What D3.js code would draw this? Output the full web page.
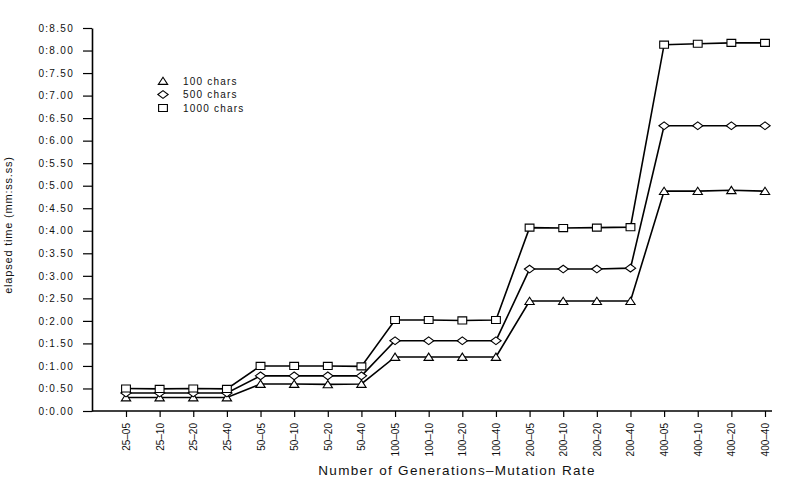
<!DOCTYPE html>
<html>
<head>
<meta charset="utf-8">
<script src="https://cdn.jsdelivr.net/npm/d3@7"></script>
<style>
  body { margin: 0; background: #fff; }
  text { font-family: "Liberation Sans", Arial, sans-serif; fill: #111; }
</style>
</head>
<body>
<svg width="788" height="482"></svg>
<script>
// categories: generations - mutation rate
const categories = ["25–05", "25–10", "25–20", "25–40", "50–05", "50–10", "50–20", "50–40",
    "100–05", "100–10", "100–20", "100–40", "200–05", "200–10", "200–20", "200–40",
    "400–05", "400–10", "400–20", "400–40"]

// elapsed time per series
const chars100 = [0.30, 0.30, 0.30, 0.30, 0.60, 0.60, 0.59, 0.60,
    1.20, 1.20, 1.20, 1.20, 2.44, 2.44, 2.44, 2.44, 4.88, 4.88, 4.90, 4.88]
const chars500 = [0.40, 0.40, 0.40, 0.40, 0.78, 0.78, 0.78, 0.78,
    1.56, 1.56, 1.56, 1.56, 3.15, 3.15, 3.15, 3.17, 6.33, 6.33, 6.33, 6.33]
const chars1000 = [0.50, 0.49, 0.50, 0.49, 1.00, 1.00, 1.00, 0.99,
    2.02, 2.02, 2.01, 2.02, 4.07, 4.06, 4.07, 4.08, 8.13, 8.15, 8.17, 8.17]

const seriesNames = ["100 chars", "500 chars", "1000 chars"]

const yTicks = [0, 0.5, 1, 1.5, 2, 2.5, 3, 3.5, 4, 4.5, 5, 5.5, 6, 6.5, 7, 7.5, 8, 8.5]
const yTickLabels = ["0:0.00", "0:0.50", "0:1.00", "0:1.50", "0:2.00", "0:2.50", "0:3.00", "0:3.50",
    "0:4.00", "0:4.50", "0:5.00", "0:5.50", "0:6.00", "0:6.50", "0:7.00", "0:7.50", "0:8.00", "0:8.50"]

let svg = d3.select("svg")

let x = d3.scalePoint()
    .domain(categories)
    .range([126, 765])

let y = d3.scaleLinear()
    .domain([0, 8.5])
    .range([411, 28])

// marker shapes: triangle, diamond, square
const markers = [
    s => "M0," + (-s * 0.45) + "L" + (s * 0.55) + "," + (s * 0.4) + "L" + (-s * 0.55) + "," + (s * 0.4) + "Z",
    s => "M" + (-s * 0.6) + ",0L0," + (-s * 0.45) + "L" + (s * 0.6) + ",0L0," + (s * 0.45) + "Z",
    s => "M" + (-s * 0.5) + "," + (-s * 0.4) + "h" + s + "v" + (s * 0.8) + "h" + (-s) + "Z"
]
const markerSize = [8.5, 8.6, 8.8]

// axes
let yAxis = d3.axisLeft(y)
    .tickValues(yTicks)
    .tickFormat((d, i) => yTickLabels[i])
    .tickSize(9)
    .tickSizeOuter(0)
    .tickPadding(9)

let gy = svg.append("g")
    .attr("transform", "translate(92,0)")
    .call(yAxis)
gy.select(".domain").attr("stroke-width", 1.6)
gy.selectAll(".tick line").attr("stroke-width", 1.2)
gy.selectAll(".tick text")
    .style("font-size", "10px")
    .style("letter-spacing", "1.3px")
    .attr("fill", "#111")

let xAxis = d3.axisBottom(x).tickSize(6).tickSizeOuter(0)

let gx = svg.append("g")
    .attr("transform", "translate(0,411)")
    .call(xAxis)
gx.select(".domain").remove()
gx.selectAll(".tick line").attr("stroke-width", 1.2)
gx.selectAll(".tick text")
    .style("font-size", "10px")
    .attr("fill", "#111")
    .attr("text-anchor", "end")
    .attr("transform", "rotate(-90)")
    .attr("x", -12)
    .attr("y", 0)
    .attr("dy", "0.35em")

svg.append("line")
    .attr("x1", 92).attr("x2", 772)
    .attr("y1", y(0)).attr("y2", y(0))
    .attr("stroke", "#000")
    .attr("stroke-width", 1.6)

svg.append("text")
    .attr("x", 457)
    .attr("y", 475)
    .attr("text-anchor", "middle")
    .style("font-size", "13.5px")
    .style("letter-spacing", "1.3px")
    .text("Number of Generations–Mutation Rate")

svg.append("text")
    .attr("transform", "translate(12,225) rotate(-90)")
    .attr("text-anchor", "middle")
    .style("font-size", "11px")
    .style("letter-spacing", "0.8px")
    .text("elapsed time (mm:ss.ss)")

// lines and markers
const allSeries = [chars100, chars500, chars1000]
let line = d3.line()
    .x((d, i) => x(categories[i]))
    .y(d => y(d))

allSeries.forEach(function (vals, k) {
    svg.append("path")
        .datum(vals)
        .attr("d", line)
        .attr("fill", "none")
        .attr("stroke", "#000")
        .attr("stroke-width", 1.6)

    svg.append("g").selectAll("path").data(vals)
        .enter().append("path")
        .attr("d", markers[k](markerSize[k]))
        .attr("transform", (d, i) => "translate(" + x(categories[i]) + "," + y(d) + ")")
        .attr("fill", "#fff")
        .attr("stroke", "#000")
        .attr("stroke-width", 1.1)
})

// legend
let legend = svg.append("g").attr("transform", "translate(163,81)")
seriesNames.forEach(function (name, k) {
    legend.append("path")
        .attr("d", markers[k](markerSize[k]))
        .attr("transform", "translate(0," + (k * 13.5) + ")")
        .attr("fill", "#fff")
        .attr("stroke", "#000")
        .attr("stroke-width", 1.1)
    legend.append("text")
        .attr("x", 20)
        .attr("y", k * 13.5)
        .attr("dy", "0.35em")
        .style("font-size", "10px")
        .style("letter-spacing", "1.2px")
        .text(name)
})
</script>
</body>
</html>
